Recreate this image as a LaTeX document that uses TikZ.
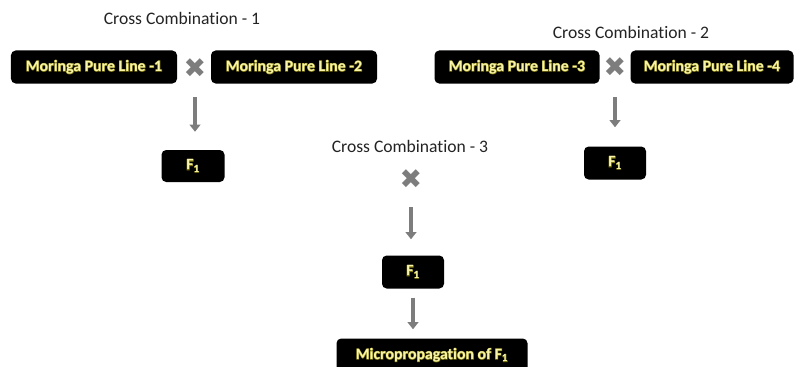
\documentclass[tikz,border=0pt]{standalone}
\usepackage{fontspec}
\setmainfont{Carlito}[Ligatures=NoCommon]
\newfontfamily\glowfont{Carlito}[FakeBold=6, Ligatures=NoCommon]
\newfontfamily\symfont{DejaVu Sans}
\usetikzlibrary{arrows.meta}

\definecolor{boxtext}{RGB}{248,244,170}
\definecolor{glowcol}{RGB}{130,122,15}
\definecolor{crossgray}{RGB}{125,125,125}
\definecolor{headtext}{RGB}{35,35,35}

\newcommand{\glowtext}[1]{\rlap{\color{glowcol}\glowfont\bfseries #1}#1}

\tikzset{
    linebox/.style={fill=black, rounded corners=4pt, inner sep=0pt, text=boxtext,
        font=\fontsize{13.5}{16}\selectfont\bfseries, minimum height=0.99cm},
    heading/.style={text=headtext, font=\fontsize{15}{18}\selectfont},
    crossmark/.style={text=crossgray, inner sep=0pt, font=\symfont\fontsize{23}{26}\selectfont},
    downarrow/.style={crossgray, line width=3.2pt, -{Triangle[width=9pt,length=6pt]}},
}

\begin{document}
\begin{tikzpicture}[x=0.03cm, y=-0.03cm]
    \useasboundingbox (0,0) rectangle (795,366);
    \clip (0,0) rectangle (795,366);

    % first cross
    \node[heading] (head1) at (182,18) {Cross Combination - 1};
    \node[linebox, minimum width=4.98cm] (line1) at (94,67) {\glowtext{Moringa Pure Line -1}};
    \node[crossmark] (cross1) at (195,68) {✖};
    \node[linebox, minimum width=4.98cm] (line2) at (294,67) {\glowtext{Moringa Pure Line -2}};
    \node[linebox, minimum width=1.89cm, minimum height=0.96cm] (fone1) at (193,166) {\glowtext{F\textsubscript{1}}};

    % second cross
    \node[heading] (head2) at (631,32) {Cross Combination - 2};
    \node[linebox, minimum width=4.95cm] (line3) at (517,67) {\glowtext{Moringa Pure Line -3}};
    \node[crossmark] (cross2) at (615,67) {✖};
    \node[linebox, minimum width=4.89cm] (line4) at (712,67) {\glowtext{Moringa Pure Line -4}};
    \node[linebox, minimum width=1.86cm] (fone2) at (615,163) {\glowtext{F\textsubscript{1}}};

    % third cross
    \node[heading] (head3) at (410,146) {Cross Combination - 3};
    \node[crossmark] (cross3) at (411,179) {✖};
    \node[linebox, minimum width=1.86cm] (fone3) at (413,272) {\glowtext{F\textsubscript{1}}};
    \node[linebox, minimum width=5.73cm] (micro) at (432,355) {\glowtext{Micropropagation of F\textsubscript{1}}};

    % arrows
    \draw[downarrow, shorten <=0.87cm, shorten >=0.54cm] (cross1.center) -- (cross1 |- fone1.north);
    \draw[downarrow, shorten <=0.9cm, shorten >=0.57cm] (cross2.center) -- (cross2 |- fone2.north);
    \draw[downarrow, shorten <=0.84cm, shorten >=0.48cm] (cross3.center) -- (cross3 |- fone3.north);
    \draw[downarrow, shorten <=0.27cm, shorten >=0.27cm] (fone3.south) -- (fone3.south |- micro.north);
\end{tikzpicture}
\end{document}
